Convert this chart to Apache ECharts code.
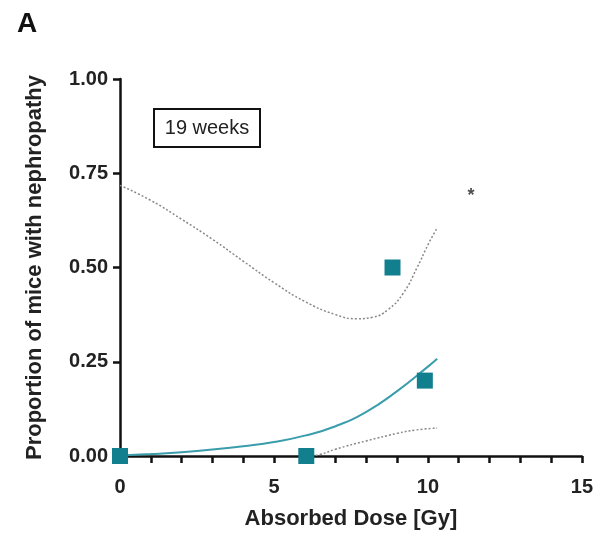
<!DOCTYPE html>
<html>
<head>
<meta charset="utf-8">
<script src="https://cdn.jsdelivr.net/npm/echarts@6/dist/echarts.min.js"></script>
<style>
  html, body { margin: 0; padding: 0; background: #fff; }
  #chart { width: 596px; height: 535px; }
</style>
</head>
<body>
<div id="chart"></div>
<script>
// Observed proportions
const obsDose = [0, 6.05, 8.85, 9.9];
const obsProp = [0, 0, 0.5, 0.2];

// Fitted curve
const fitDose = [0, 1, 2, 3, 4, 5, 6, 7, 8, 9, 10, 10.3];
const fitProp = [0.001, 0.005, 0.01, 0.017, 0.026, 0.037, 0.054, 0.079, 0.117, 0.172, 0.237, 0.258];

// Confidence band (upper / lower)
const upperDose = [0, 1, 2, 3, 4, 5, 6, 7, 7.7, 8.2, 8.7, 9.2, 9.65, 10, 10.3];
const upperProp = [0.718, 0.678, 0.628, 0.575, 0.517, 0.46, 0.41, 0.375, 0.364, 0.368, 0.388, 0.432, 0.5, 0.56, 0.605];
const lowerDose = [6.1, 6.5, 7, 8, 9, 9.6, 10.3];
const lowerProp = [0, 0.004, 0.018, 0.04, 0.06, 0.069, 0.074];

// Significance marker
const starPos = [11.4, 0.70];

const yTicks = [0, 0.25, 0.5, 0.75, 1];

const pair = (xs, ys) => xs.map((x, i) => [x, ys[i]]);
const FONT = 'Liberation Sans, Arial, sans-serif';
const TEAL = '#127f8e';

const chart = echarts.init(document.getElementById('chart'));
chart.setOption({
    animation: false,
    grid: { left: 120, right: 13, top: 79, bottom: 77 },
    xAxis: {
        type: 'value', min: 0, max: 15, interval: 1,
        name: 'Absorbed Dose [Gy]', nameLocation: 'middle', nameGap: 52,
        nameTextStyle: { fontFamily: FONT, fontWeight: 'bold', fontSize: 22, color: '#222' },
        axisLine: { onZero: false, lineStyle: { color: '#111', width: 2.5 } },
        axisTick: { length: 7, lineStyle: { color: '#111', width: 2.5 } },
        axisLabel: {
            margin: 21, fontFamily: FONT, fontWeight: 'bold', fontSize: 20, color: '#222',
            formatter: v => (v % 5 === 0 ? String(v) : '')
        },
        splitLine: { show: false }
    },
    yAxis: {
        type: 'value', min: yTicks[0], max: yTicks[yTicks.length - 1], interval: 0.25,
        name: 'Proportion of mice with nephropathy', nameLocation: 'middle', nameGap: 74,
        nameTextStyle: { fontFamily: FONT, fontWeight: 'bold', fontSize: 22, color: '#222' },
        axisLine: { show: true, lineStyle: { color: '#111', width: 2.5 } },
        axisTick: { show: true, length: 7, lineStyle: { color: '#111', width: 2.5 } },
        axisLabel: {
            margin: 12, fontFamily: FONT, fontWeight: 'bold', fontSize: 20, color: '#222',
            formatter: v => v.toFixed(2)
        },
        splitLine: { show: false }
    },
    graphic: [
        {
            type: 'text', left: 17, top: 10,
            style: { text: 'A', font: 'bold 28px ' + FONT, fill: '#111' }
        },
        {
            type: 'group', left: 153, top: 108,
            children: [
                { type: 'rect', shape: { x: 0, y: 0, width: 106, height: 38 },
                  style: { fill: '#fff', stroke: '#111', lineWidth: 2 } },
                { type: 'text', x: 53, y: 19,
                  style: { text: '19 weeks', font: '20px ' + FONT, fill: '#222',
                           textAlign: 'center', textVerticalAlign: 'middle' } }
            ]
        }
    ],
    series: [
        {
            type: 'line', data: pair(upperDose, upperProp), smooth: true, symbol: 'none',
            lineStyle: { color: '#888', width: 1.5, type: [2, 2] }
        },
        {
            type: 'line', data: pair(lowerDose, lowerProp), smooth: true, symbol: 'none',
            lineStyle: { color: '#888', width: 1.5, type: [2, 2] }
        },
        {
            type: 'line', data: pair(fitDose, fitProp), smooth: true, symbol: 'none',
            lineStyle: { color: '#3a9dab', width: 2 }
        },
        {
            type: 'scatter', data: pair(obsDose, obsProp), symbol: 'rect', symbolSize: 16,
            clip: false, z: 5,
            itemStyle: { color: TEAL, opacity: 1 }
        },
        {
            type: 'scatter', data: [starPos], symbolSize: 0, silent: true,
            label: { show: true, position: 'inside', formatter: '*',
                     fontFamily: FONT, fontWeight: 'bold', fontSize: 18, color: '#222', offset: [0, 4] }
        }
    ]
});
</script>
</body>
</html>
